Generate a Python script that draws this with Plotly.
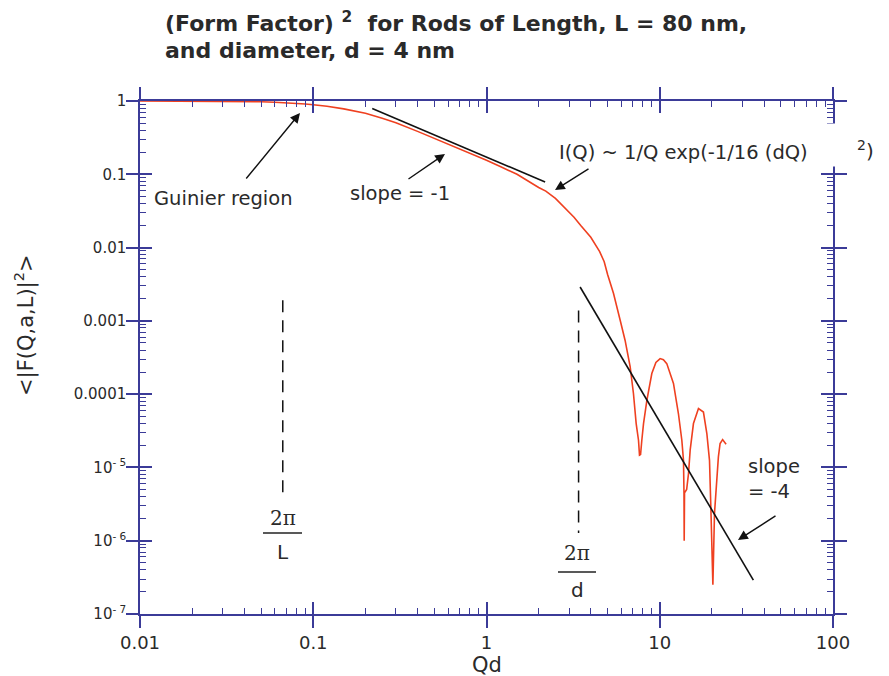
import plotly.graph_objects as go

# ---------------- data ----------------
qd = [0.01, 0.02, 0.03, 0.04, 0.05, 0.06, 0.07, 0.08, 0.09, 0.1, 0.12, 0.15,
      0.2, 0.25, 0.3, 0.4, 0.5, 0.6, 0.7, 0.8, 1.0, 1.2, 1.5, 2.0, 2.2, 2.5,
      3.0, 3.2, 3.5, 4.0, 4.5, 4.78, 5.0, 5.41, 5.91, 6.31, 6.75, 7.05, 7.31,
      7.54, 7.64, 7.75, 7.88, 8.06, 8.43, 9.0, 9.5, 10.05, 10.5, 10.98, 12.0,
      12.82, 13.41, 13.71, 13.8, 13.84, 13.9, 14.3, 14.66, 14.98, 15.65, 16.73,
      17.87, 18.7, 19.37, 19.72, 20.26, 20.7, 21.36, 21.8, 22.3, 23.06, 24.15]
ff2 = [1.0, 0.998, 0.993, 0.985, 0.975, 0.962, 0.948, 0.93, 0.91, 0.89, 0.85, 0.78,
       0.68, 0.58, 0.505, 0.385, 0.31, 0.26, 0.222, 0.194, 0.155, 0.128, 0.100, 0.066, 0.059, 0.047,
       0.031, 0.026, 0.020, 0.0138, 0.0088, 0.0064, 0.0043, 0.00236, 0.00102, 0.00054, 0.000235, 0.000102, 3.97e-5,
       2.35e-5, 1.47e-5, 1.5e-5, 2.35e-5, 3.97e-5, 8.3e-5, 1.91e-4, 2.7e-4, 3.06e-4, 2.95e-4, 2.61e-4, 1.40e-4,
       5.4e-5, 2.35e-5, 1.25e-5, 4.5e-6, 1.0e-6, 4.5e-6, 5.0e-6, 8.3e-6, 1.72e-5, 3.97e-5, 6.35e-5,
       5.7e-5, 2.9e-5, 1.25e-5, 2.9e-6, 2.5e-7, 2.35e-6, 8.3e-6, 1.39e-5, 2.12e-5, 2.4e-5, 2.07e-5]

slope1_x = [0.219, 2.18]
slope1_y = [0.79, 0.0785]
slope4_x = [3.47, 34.7]
slope4_y = [2.9e-3, 2.9e-7]
dashL_x = [0.0667, 0.0667]
dashL_y = [1.91e-3, 3.8e-6]
dashD_x = [3.40, 3.40]
dashD_y = [1.39e-3, 1.27e-6]

x_ticks = [0.01, 0.1, 1, 10, 100]
x_ticktext = ["0.01", "0.1", "1", "10", "100"]
y_ticks = [1e-7, 1e-6, 1e-5, 1e-4, 1e-3, 1e-2, 1e-1, 1]
y_ticktext = ["10<sup>- 7</sup>", "10<sup>- 6</sup>", "10<sup>- 5</sup>", "0.0001",
              "0.001", "0.01", "0.1", "1"]

# ---------------- styling ----------------
AX = "#3b3b98"
RED = "#ef4020"
TXT = "#2a2a2a"
SANS = "DejaVu Sans"
SERIF = "DejaVu Serif"
FS = 19.5

W, H = 889, 676
ML, MR, MT, MB = 140, 56, 101, 62
PW, PH = W - ML - MR, H - MT - MB


def pxx(p):
    return (p - ML) / PW


def pxy(p):
    return (H - MB - p) / PH


minor_x = [k * 10.0 ** n for n in range(-2, 2) for k in range(2, 10)]
minor_y = [k * 10.0 ** n for n in range(-7, 0) for k in range(2, 10)]

fig = go.Figure()
fig.add_trace(go.Scatter(x=qd, y=ff2, mode="lines",
                         line=dict(color=RED, width=1.6), hoverinfo="skip"))
fig.add_trace(go.Scatter(x=slope1_x, y=slope1_y, mode="lines",
                         line=dict(color="#111111", width=1.6), hoverinfo="skip"))
fig.add_trace(go.Scatter(x=slope4_x, y=slope4_y, mode="lines",
                         line=dict(color="#111111", width=1.6), hoverinfo="skip"))
for dx, dy in ((dashL_x, dashL_y), (dashD_x, dashD_y)):
    fig.add_trace(go.Scatter(x=dx, y=dy, mode="lines", xaxis="x2", yaxis="y2",
                             line=dict(color="#111111", width=1.5, dash="12px,8px"),
                             hoverinfo="skip"))

common = dict(type="log", showgrid=False, zeroline=False, tickcolor=AX,
              tickwidth=1.5, linecolor=AX, linewidth=1.5, automargin=False)
fig.update_layout(
    width=W, height=H, margin=dict(l=ML, r=MR, t=MT, b=MB, autoexpand=False),
    paper_bgcolor="white", plot_bgcolor="white", showlegend=False,
    font=dict(family=SANS, color=TXT, size=16),
    xaxis=dict(**common, range=[-2, 2], showline=True, mirror="ticks",
               ticks="outside", ticklen=12, tickvals=x_ticks, ticktext=x_ticktext,
               tickfont=dict(size=18, color=TXT),
               minor=dict(ticks="inside", ticklen=6, tickwidth=1.2, tickcolor=AX,
                          tickvals=minor_x, showgrid=False)),
    yaxis=dict(**common, range=[-7, 0], showline=True, mirror="ticks",
               ticks="outside", ticklen=12, tickvals=y_ticks, ticktext=y_ticktext,
               tickfont=dict(size=15, color=TXT), ticklabelstandoff=-3,
               minor=dict(ticks="inside", ticklen=6, tickwidth=1.2, tickcolor=AX,
                          tickvals=minor_y, showgrid=False)),
    xaxis2=dict(**common, range=[-2, 2], overlaying="x", anchor="y2", showline=False,
                mirror="ticks", ticks="inside", ticklen=12, tickvals=x_ticks,
                showticklabels=False),
    yaxis2=dict(**common, range=[-7, 0], overlaying="y", anchor="x2", showline=False,
                mirror="ticks", ticks="inside", ticklen=12, tickvals=y_ticks,
                showticklabels=False),
)

ann = []
# title lines
ann.append(dict(text="<b>(Form Factor) <sup>2</sup>  for Rods of Length, L = 80 nm,</b>",
                x=pxx(163), y=pxy(22), showarrow=False, xanchor="left",
                font=dict(size=22, family=SANS, color=TXT)))
ann.append(dict(text="<b>and diameter, d = 4 nm</b>",
                x=pxx(163), y=pxy(51), showarrow=False, xanchor="left",
                font=dict(size=22, family=SANS, color=TXT)))
# axis titles
ann.append(dict(text="&lt;|F(Q,a,L)|<sup>2</sup>&gt;", x=pxx(24), y=pxy(325),
                showarrow=False, textangle=-90, font=dict(size=21, color=TXT)))
ann.append(dict(text="Qd", x=pxx(487), y=pxy(665), showarrow=False,
                font=dict(size=21, color=TXT)))
# text labels
ann.append(dict(text="Guinier region", x=pxx(223), y=pxy(198), showarrow=False,
                font=dict(size=FS)))
ann.append(dict(text="slope = -1", x=pxx(400), y=pxy(193), showarrow=False,
                font=dict(size=FS)))
ann.append(dict(text="I(Q) ~ 1/Q exp(-1/16 (dQ)", x=pxx(557), y=pxy(152),
                xanchor="left", showarrow=False, font=dict(size=FS)))
ann.append(dict(text=" ", x=pxx(833), y=pxy(145), width=14, height=42,
                bgcolor="white", showarrow=False, borderpad=0, font=dict(size=10)))
ann.append(dict(text="<sup>2</sup>)", x=pxx(855), y=pxy(150), xanchor="left",
                showarrow=False, font=dict(size=20)))
ann.append(dict(text="slope<br>= -4", x=pxx(746), y=pxy(479), xanchor="left",
                align="left", showarrow=False, font=dict(size=FS)))
# fraction labels
for cx, ytop, ybot, letter in ((283, 518, 552, "L"), (577, 553, 590, "d")):
    ann.append(dict(text="2\u03c0", x=pxx(cx), y=pxy(ytop), showarrow=False,
                    font=dict(size=20, family=SERIF)))
    ann.append(dict(text=letter, x=pxx(cx), y=pxy(ybot), showarrow=False,
                    font=dict(size=20)))
# arrows (head, tail in pixels)
arrows = [((300, 113), (245, 180)), ((445, 154), (407, 180)),
          ((555, 190), (590, 168)), ((738, 540), (777, 515))]
for (hx, hy), (tx, ty) in arrows:
    ann.append(dict(text="", x=pxx(hx), y=pxy(hy), ax=tx - hx, ay=ty - hy,
                    showarrow=True, arrowhead=2, arrowsize=1.4, arrowwidth=1.4,
                    arrowcolor="#111111"))
for a in ann:
    a.setdefault("xref", "paper")
    a.setdefault("yref", "paper")
    a.setdefault("xanchor", "center")
    a.setdefault("yanchor", "middle")
fig.update_layout(annotations=ann)

# fraction bars
for x0, x1, yb in ((263, 302, 533), (558, 596, 572)):
    fig.add_shape(type="line", xref="paper", yref="paper",
                  x0=pxx(x0), x1=pxx(x1), y0=pxy(yb), y1=pxy(yb),
                  line=dict(color="#222222", width=1.5))

fig.write_html("out.html")
